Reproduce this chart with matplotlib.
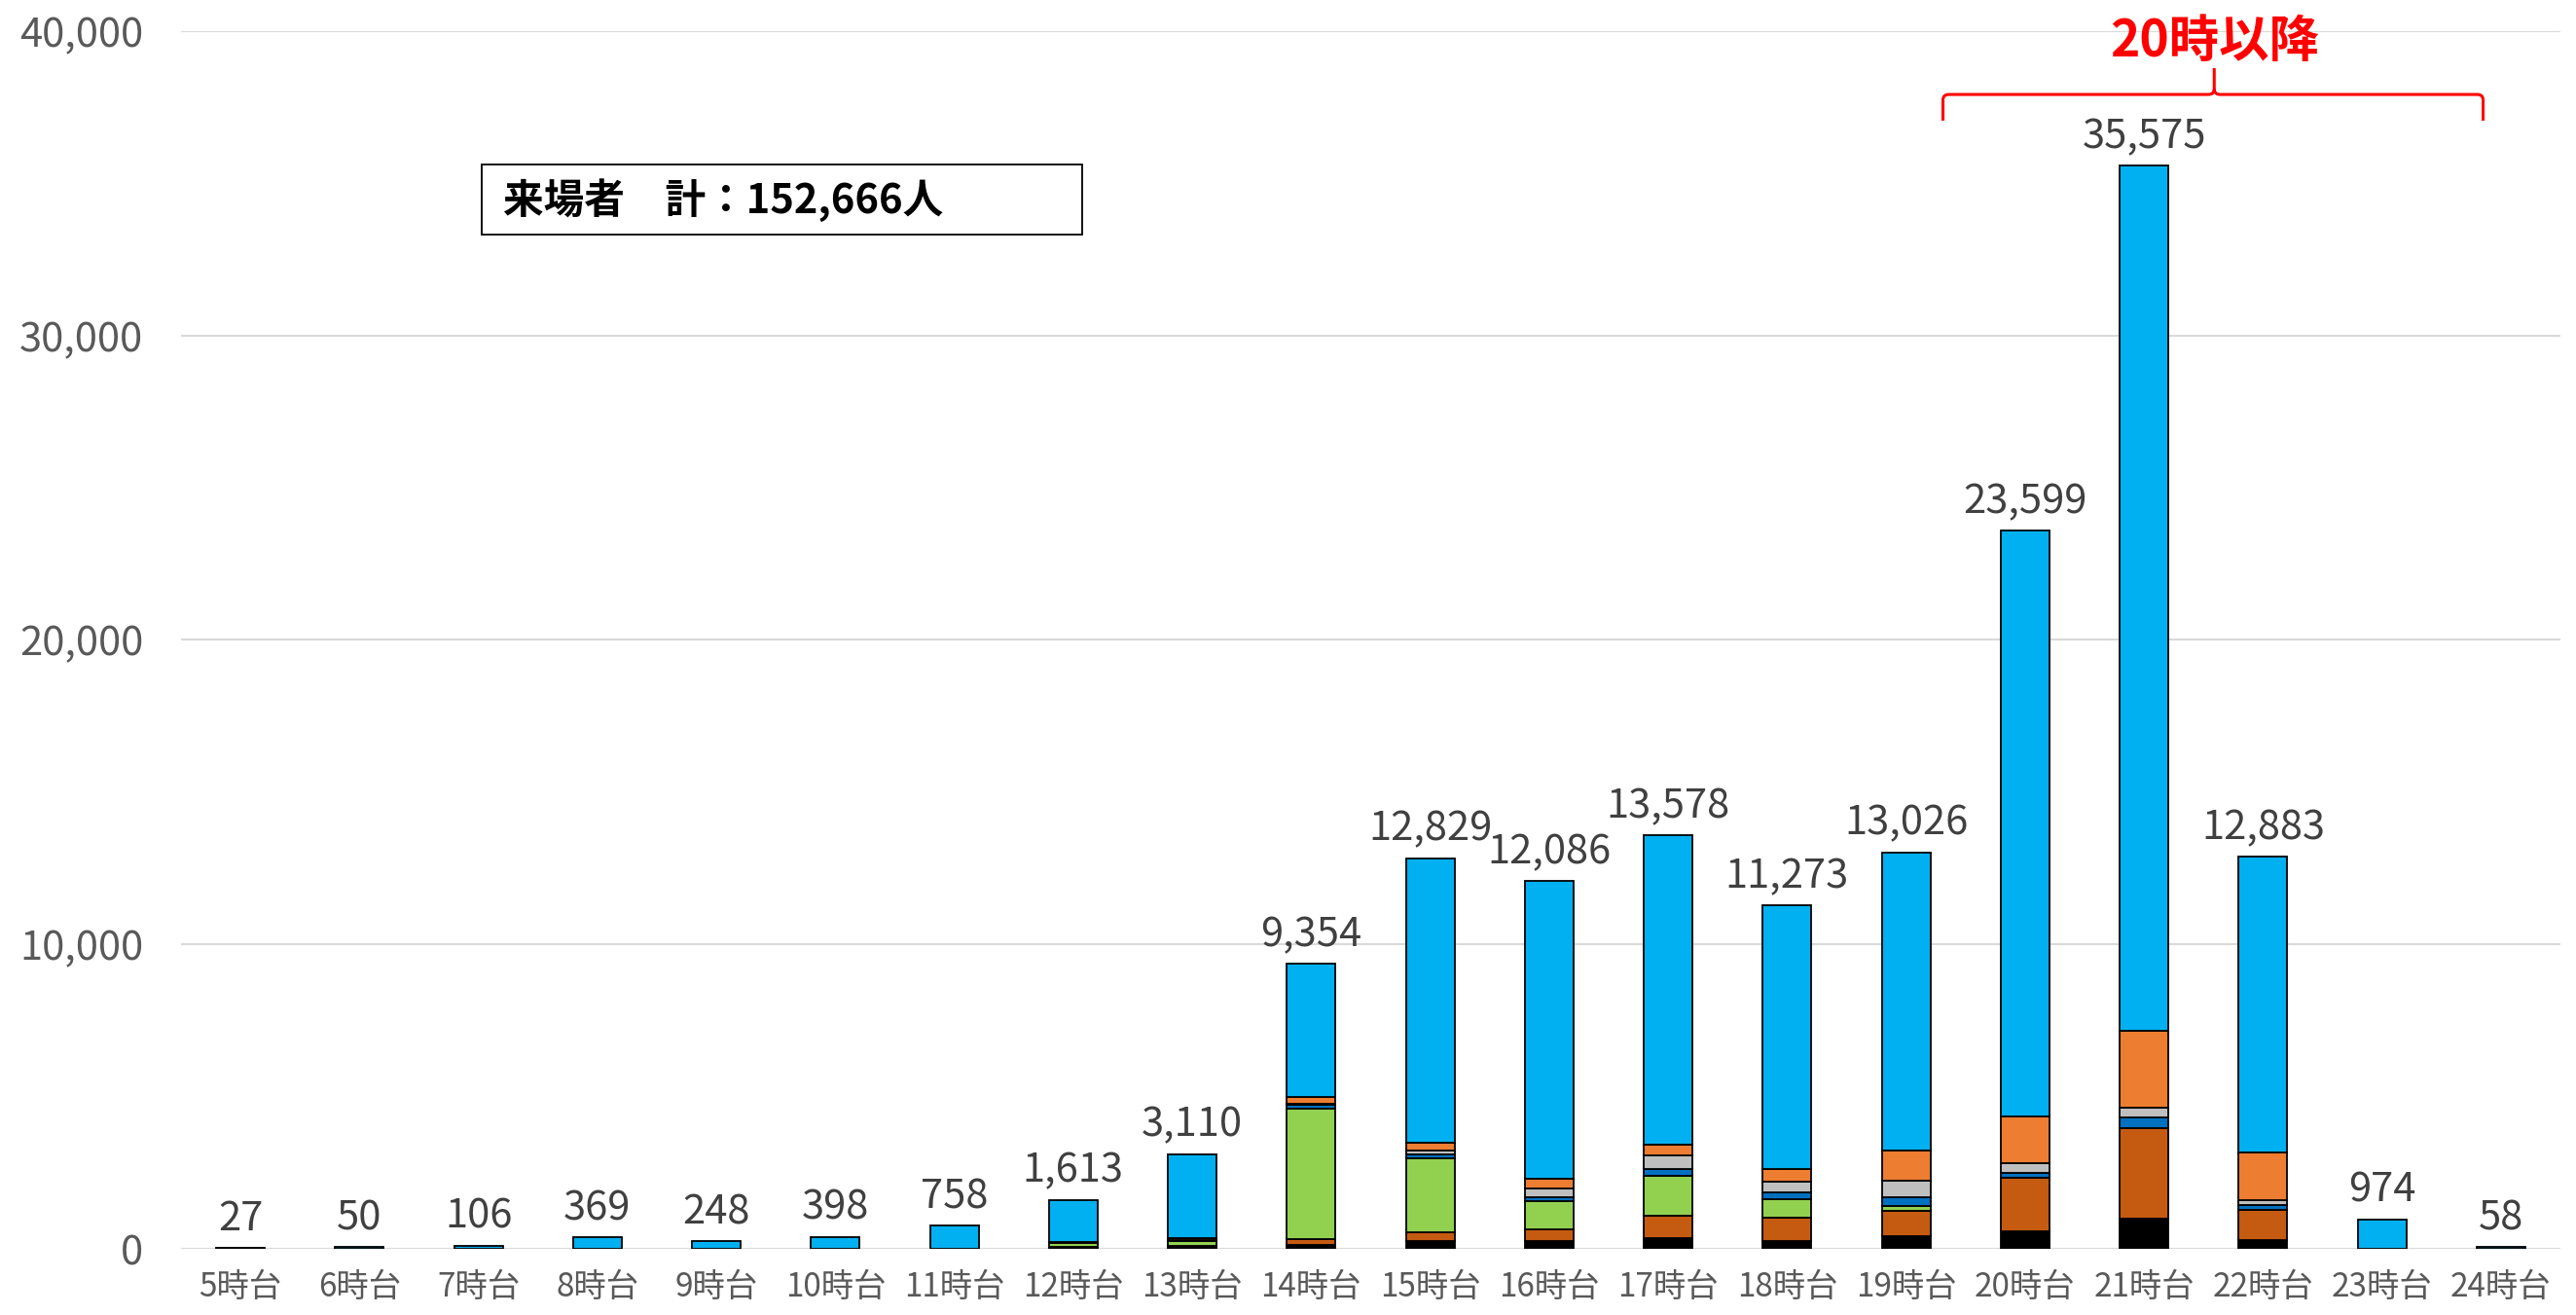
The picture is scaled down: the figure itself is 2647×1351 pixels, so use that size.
import matplotlib
matplotlib.use("Agg")
import matplotlib.pyplot as plt
from matplotlib.path import Path
from matplotlib.patches import PathPatch, Rectangle
import numpy as np

plt.rcParams['font.family'] = ['Noto Sans CJK JP', 'DejaVu Sans']

hours = ["5時台", "6時台", "7時台", "8時台", "9時台", "10時台", "11時台", "12時台",
         "13時台", "14時台", "15時台", "16時台", "17時台", "18時台", "19時台",
         "20時台", "21時台", "22時台", "23時台", "24時台"]
totals = [27, 50, 106, 369, 248, 398, 758, 1613, 3110, 9354, 12829, 12086,
          13578, 11273, 13026, 23599, 35575, 12883, 974, 58]

# stacked segments, bottom to top
seg_black      = [0, 0, 0, 0, 0, 0, 0, 50, 80, 140, 245, 245, 350, 245, 405, 565, 1000, 300, 0, 0]
seg_darkorange = [0, 0, 0, 0, 0, 0, 0, 10, 20, 180, 310, 395, 735, 780, 830, 1775, 2970, 990, 0, 0]
seg_green      = [0, 0, 0, 0, 0, 0, 0, 120, 150, 4290, 2405, 915, 1310, 605, 170, 0, 0, 0, 0, 0]
seg_darkblue   = [0, 0, 0, 0, 0, 0, 0, 10, 20, 120, 130, 130, 225, 215, 300, 160, 340, 160, 0, 0]
seg_gray       = [27, 0, 0, 0, 0, 0, 0, 10, 20, 40, 140, 300, 445, 370, 545, 300, 340, 160, 0, 0]
seg_orange     = [0, 0, 0, 0, 0, 0, 0, 30, 60, 210, 265, 320, 350, 395, 970, 1545, 2520, 1545, 0, 0]
seg_sky        = [0, 50, 106, 369, 248, 398, 758, 1383, 2760, 4374, 9334, 9781,
                  10163, 8663, 9806, 19254, 28405, 9728, 974, 58]

series = [
    (seg_black, "#000000"),
    (seg_darkorange, "#C55A11"),
    (seg_green, "#92D050"),
    (seg_darkblue, "#0070C0"),
    (seg_gray, "#BFBFBF"),
    (seg_orange, "#ED7D31"),
    (seg_sky, "#00B0F0"),
]

total_label = "来場者　計：152,666人"
after_label = "20時以降"

W, H = 2647, 1351
fig = plt.figure(figsize=(W / 100, H / 100), dpi=100)
ax = fig.add_axes([186 / W, 1 - 1283 / H, (2631 - 186) / W, (1283 - 32) / H])

x = np.arange(len(hours))
bottom = np.zeros(len(hours))
for vals, col in series:
    v = np.array(vals, dtype=float)
    ax.bar(x, v, bottom=bottom, width=0.41, color=col, edgecolor="#000000",
           linewidth=1.3, zorder=3)
    bottom += v

for xi, t in zip(x, totals):
    ax.annotate(f"{t:,}", (xi, t), xytext=(0, 13), textcoords="offset points",
                ha="center", va="baseline", fontsize=30, color="#404040", zorder=5)

ax.set_xlim(-0.5, len(hours) - 0.5)
ax.set_ylim(0, 40000)
ax.set_yticks([0, 10000, 20000, 30000, 40000])
ax.set_yticklabels([f"{v:,}" for v in [0, 10000, 20000, 30000, 40000]])
ax.set_xticks(x)
ax.set_xticklabels(hours)
ax.tick_params(axis="y", length=0, pad=28, labelsize=30, labelcolor="#595959")
ax.tick_params(axis="x", length=0, pad=16, labelsize=24, labelcolor="#595959")
ax.grid(axis="y", color="#D9D9D9", linewidth=1.5, zorder=0)
ax.set_axisbelow(True)
for s in ax.spines.values():
    s.set_visible(False)
ax.axhline(0, color="#D9D9D9", linewidth=2, zorder=2)

# total box
fig.text(517 / W, 1 - 206 / H, total_label, fontsize=30, fontweight="bold",
         color="black", ha="left", va="center")
fig.patches.append(Rectangle((495 / W, 1 - 241 / H), (1112 - 495) / W, (241 - 169) / H,
                             transform=fig.transFigure, fill=False,
                             edgecolor="black", linewidth=1.3))

# brace and red label
x0, x1, xm = 14.31, 18.85, 16.59
yend, yh, ytip = 37060, 37920, 38785
rx, ry = 0.05, 180
verts = [(x0, yend), (x0, yh - ry), (x0, yh), (x0 + rx, yh),
         (xm - rx, yh), (xm, yh), (xm, yh + ry), (xm, ytip),
         (xm, yh + ry), (xm, yh), (xm + rx, yh),
         (x1 - rx, yh), (x1, yh), (x1, yh - ry), (x1, yend)]
codes = [Path.MOVETO, Path.LINETO, Path.CURVE3, Path.CURVE3,
         Path.LINETO, Path.CURVE3, Path.CURVE3, Path.LINETO,
         Path.MOVETO, Path.CURVE3, Path.CURVE3,
         Path.LINETO, Path.CURVE3, Path.CURVE3, Path.LINETO]
ax.add_patch(PathPatch(Path(verts, codes), fill=False, edgecolor="#FF0000",
                       linewidth=2.2, clip_on=False, zorder=6))
ax.text(xm, 39650, after_label, fontsize=37, fontweight="bold", color="#FF0000",
        ha="center", va="center", clip_on=False, zorder=6)

fig.savefig("out.png", dpi=100, facecolor="white")
